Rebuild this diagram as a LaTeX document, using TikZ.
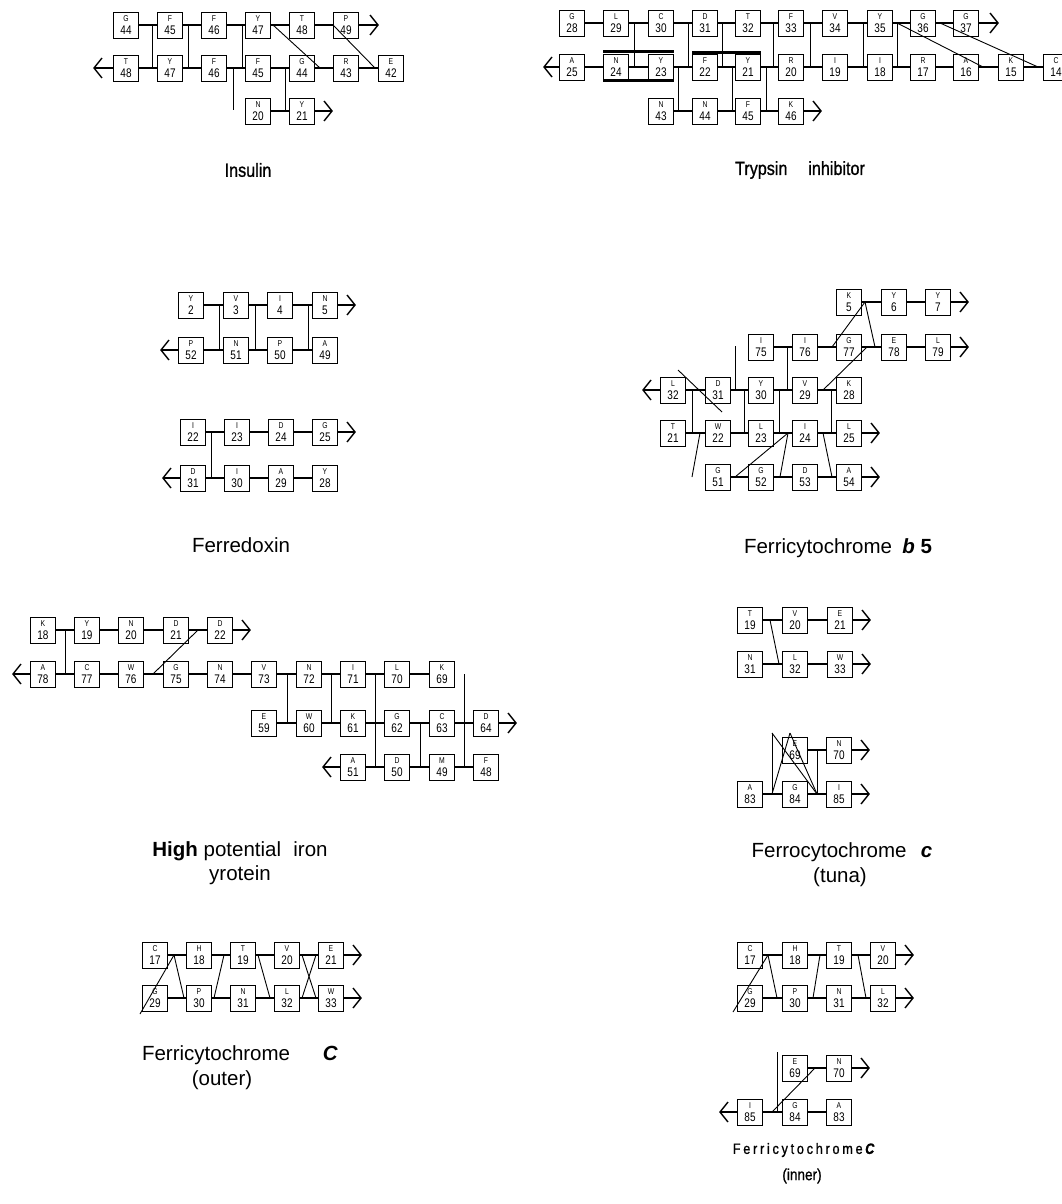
\documentclass[tikz,border=0pt]{standalone}
\usepackage{fontspec}
\setmainfont{Liberation Sans}
\setsansfont{Liberation Sans}
\newfontfamily\condfont[FakeStretch=0.85,FakeBold=1]{Liberation Sans}
\newfontfamily\spfont[FakeStretch=0.85,FakeBold=1,LetterSpace=18]{Liberation Sans}
\newfontfamily\boxfont[FakeStretch=0.8]{Liberation Sans}
\usetikzlibrary{arrows.meta}
\tikzset{
 res/.style={draw, line width=0.8pt, minimum width=25pt, minimum height=26pt, inner sep=0pt, align=center, font=\boxfont\fontsize{9}{12.5}\selectfont},
 chain/.style={line width=1.8pt},
 hb/.style={line width=0.9pt},
 arr/.style={line width=1.4pt, -{Straight Barb[length=8pt,width=20pt,line width=1.4pt]}},
 heavy/.style={line width=3pt},
 lbl/.style={font=\fontsize{20.5}{25}\selectfont},
 clbl/.style={font=\condfont\fontsize{19}{23}\selectfont},
}
\newcommand{\rr}[5]{\node[res] (#1) at (#2,#3) {{\fontsize{8.5}{8.5}\selectfont #4}\\{\fontsize{12.5}{12.5}\selectfont #5}};}
\begin{document}
\begin{tikzpicture}[x=1pt,y=-1pt]
\fill[white] (0,0) rectangle (1062,1204);
\useasboundingbox (0,0) rectangle (1062,1204);
% ================= Insulin
\rr{iG44t}{126}{25}{G}{44}\rr{iF45t}{170}{25}{F}{45}\rr{iF46t}{214}{25}{F}{46}
\rr{iY47t}{258}{25}{Y}{47}\rr{iT48t}{302}{25}{T}{48}\rr{iP49t}{346}{25}{P}{49}
\rr{iT48b}{126}{68}{T}{48}\rr{iY47b}{170}{68}{Y}{47}\rr{iF46b}{214}{68}{F}{46}
\rr{iF45b}{258}{68}{F}{45}\rr{iG44b}{302}{68}{G}{44}\rr{iR43b}{346}{68}{R}{43}\rr{iE42b}{391}{68}{E}{42}
\rr{iN20}{258}{111}{N}{20}\rr{iY21}{302}{111}{Y}{21}
\draw[chain] (iG44t)--(iF45t)--(iF46t)--(iY47t)--(iT48t)--(iP49t);
\draw[arr] (iP49t.east)--+(20,0);
\draw[chain] (iT48b)--(iY47b)--(iF46b)--(iF45b)--(iG44b)--(iR43b)--(iE42b);
\draw[arr] (iT48b.west)--+(-20,0);
\draw[chain] (iN20)--(iY21); \draw[arr] (iY21.east)--+(18,0);
\draw[hb] (152,0 |- iG44t)--(152,0 |- iT48b);
\draw[hb] (188,0 |- iG44t)--(188,0 |- iT48b);
\draw[hb] (242,0 |- iG44t)--(242,0 |- iT48b);
\draw[hb] (233,0 |- iT48b)--(233,110);
\draw[hb] (285,0 |- iT48b)--(285,0 |- iN20);
\draw[hb] (273,0 |- iG44t)--(320,0 |- iT48b);
\draw[hb] (333,0 |- iG44t)--(375,0 |- iT48b);
\node[clbl] (insl) at (248,170) {Insulin};
% ================= Trypsin inhibitor
\rr{tG28}{572}{23}{G}{28}\rr{tL29}{616}{23}{L}{29}\rr{tC30}{661}{23}{C}{30}\rr{tD31}{705}{23}{D}{31}
\rr{tT32}{748}{23}{T}{32}\rr{tF33}{791}{23}{F}{33}\rr{tV34}{835}{23}{V}{34}\rr{tY35}{880}{23}{Y}{35}
\rr{tG36}{923}{23}{G}{36}\rr{tG37}{966}{23}{G}{37}
\rr{tA25}{572}{67}{A}{25}\rr{tN24}{616}{67}{N}{24}\rr{tY23}{661}{67}{Y}{23}\rr{tF22}{705}{67}{F}{22}
\rr{tY21}{748}{67}{Y}{21}\rr{tR20}{791}{67}{R}{20}\rr{tI19}{835}{67}{I}{19}\rr{tI18}{880}{67}{I}{18}
\rr{tR17}{923}{67}{R}{17}\rr{tA16}{966}{67}{A}{16}\rr{tK15}{1011}{67}{K}{15}\rr{tC14}{1056}{67}{C}{14}
\rr{tN43}{661}{111}{N}{43}\rr{tN44}{705}{111}{N}{44}\rr{tF45}{748}{111}{F}{45}\rr{tK46}{791}{111}{K}{46}
\draw[chain] (tG28)--(tL29)--(tC30)--(tD31)--(tT32)--(tF33)--(tV34)--(tY35)--(tG36)--(tG37);
\draw[arr] (tG37.east)--+(20,0);
\draw[chain] (tA25)--(tN24)--(tY23)--(tF22)--(tY21)--(tR20)--(tI19)--(tI18)--(tR17)--(tA16)--(tK15)--(tC14);
\draw[arr] (tA25.west)--+(-16,0);
\draw[chain] (tN43)--(tN44)--(tF45)--(tK46); \draw[arr] (tK46.east)--+(18,0);
\draw[heavy] ([yshift=2pt]tN24.north west)--([yshift=2pt]tY23.north east);
\draw[heavy] (tN24.south west)--(tY23.south east);
\draw[heavy] ([yshift=1pt]tF22.north west)--([yshift=1pt]tY21.north east);
\draw[hb] (634,0 |- tG28)--(634,0 |- tA25);
\draw[hb] (688,0 |- tG28)--(688,0 |- tA25);
\draw[hb] (678,0 |- tA25)--(678,0 |- tN43);
\draw[hb] (722,0 |- tG28)--(722,0 |- tA25);
\draw[hb] (732,0 |- tA25)--(732,0 |- tN43);
\draw[hb] (773,0 |- tG28)--(773,0 |- tA25);
\draw[hb] (766,0 |- tA25)--(766,0 |- tN43);
\draw[hb] (810,0 |- tG28)--(810,0 |- tA25);
\draw[hb] (863,0 |- tG28)--(863,0 |- tA25);
\draw[hb] (897,0 |- tG28)--(897,0 |- tA25);
\draw[hb] (897,0 |- tG28)--(983,0 |- tA25);
\draw[hb] (940,0 |- tG28)--(1038,0 |- tA25);
\node[clbl] (trpl) at (800,170) {Trypsin\hspace{1.1em}inhibitor};
% ================= Ferredoxin
\rr{fY2}{191}{305}{Y}{2}\rr{fV3}{236}{305}{V}{3}\rr{fI4}{280}{305}{I}{4}\rr{fN5}{325}{305}{N}{5}
\rr{fP52}{191}{350}{P}{52}\rr{fN51}{236}{350}{N}{51}\rr{fP50}{280}{350}{P}{50}\rr{fA49}{325}{350}{A}{49}
\draw[chain] (fY2)--(fV3)--(fI4)--(fN5); \draw[arr] (fN5.east)--+(18,0);
\draw[chain] (fP52)--(fN51)--(fP50)--(fA49); \draw[arr] (fP52.west)--+(-18,0);
\draw[hb] (219,0 |- fY2)--(219,0 |- fP52);
\draw[hb] (255,0 |- fY2)--(255,0 |- fP52);
\draw[hb] (308,0 |- fY2)--(308,0 |- fP52);
\rr{fI22}{193}{432}{I}{22}\rr{fI23}{237}{432}{I}{23}\rr{fD24}{281}{432}{D}{24}\rr{fG25}{325}{432}{G}{25}
\rr{fD31}{193}{478}{D}{31}\rr{fI30}{237}{478}{I}{30}\rr{fA29}{281}{478}{A}{29}\rr{fY28}{325}{478}{Y}{28}
\draw[chain] (fI22)--(fI23)--(fD24)--(fG25); \draw[arr] (fG25.east)--+(18,0);
\draw[chain] (fD31)--(fI30)--(fA29)--(fY28); \draw[arr] (fD31.west)--+(-18,0);
\draw[hb] (211,0 |- fI22)--(211,0 |- fD31);
\node[lbl] (ferl) at (241,545) {Ferredoxin};
% ================= Ferricytochrome b5
\rr{bK5}{849}{302}{K}{5}\rr{bY6}{894}{302}{Y}{6}\rr{bY7}{938}{302}{Y}{7}
\rr{bI75}{761}{347}{I}{75}\rr{bI76}{805}{347}{I}{76}\rr{bG77}{849}{347}{G}{77}\rr{bE78}{894}{347}{E}{78}\rr{bL79}{938}{347}{L}{79}
\rr{bL32}{673}{390}{L}{32}\rr{bD31}{718}{390}{D}{31}\rr{bY30}{761}{390}{Y}{30}\rr{bV29}{805}{390}{V}{29}\rr{bK28}{849}{390}{K}{28}
\rr{bT21}{673}{433}{T}{21}\rr{bW22}{718}{433}{W}{22}\rr{bL23}{761}{433}{L}{23}\rr{bI24}{805}{433}{I}{24}\rr{bL25}{849}{433}{L}{25}
\rr{bG51}{718}{477}{G}{51}\rr{bG52}{761}{477}{G}{52}\rr{bD53}{805}{477}{D}{53}\rr{bA54}{849}{477}{A}{54}
\draw[chain] (bK5)--(bY6)--(bY7); \draw[arr] (bY7.east)--+(18,0);
\draw[chain] (bI75)--(bI76)--(bG77)--(bE78)--(bL79); \draw[arr] (bL79.east)--+(18,0);
\draw[chain] (bL32)--(bD31)--(bY30)--(bV29)--(bK28); \draw[arr] (bL32.west)--+(-18,0);
\draw[chain] (bT21)--(bW22)--(bL23)--(bI24)--(bL25); \draw[arr] (bL25.east)--+(18,0);
\draw[chain] (bG51)--(bG52)--(bD53)--(bA54); \draw[arr] (bA54.east)--+(18,0);
\draw[hb] (692,0 |- bL32)--(692,0 |- bT21);
\draw[hb] (735,346)--(735,0 |- bL32);
\draw[hb] (744,0 |- bL32)--(744,0 |- bT21);
\draw[hb] (779,0 |- bL32)--(779,0 |- bT21);
\draw[hb] (787,0 |- bI75)--(787,0 |- bL32);
\draw[hb] (831,0 |- bL32)--(831,0 |- bT21);
\draw[hb] (823,0 |- bL32)--(867,0 |- bI75);
\draw[hb] (832,0 |- bI75)--(865,0 |- bK5);
\draw[hb] (865,0 |- bK5)--(875,0 |- bI75);
\draw[hb] (788,0 |- bT21)--(735,0 |- bG51);
\draw[hb] (788,0 |- bT21)--(780,0 |- bG51);
\draw[hb] (823,0 |- bT21)--(832,0 |- bG51);
\draw[hb] (678,370)--(722,412);
\draw[hb] (692,477)--(700,0 |- bT21);
\node[lbl] (b5l) at (838,548) {Ferricytochrome\hspace{0.5em}\textbf{\textit{b}} \textbf{5}};
% ================= HiPIP
\rr{hK18}{43}{630}{K}{18}\rr{hY19}{87}{630}{Y}{19}\rr{hN20}{131}{630}{N}{20}\rr{hD21}{176}{630}{D}{21}\rr{hD22}{220}{630}{D}{22}
\rr{hA78}{43}{674}{A}{78}\rr{hC77}{87}{674}{C}{77}\rr{hW76}{131}{674}{W}{76}\rr{hG75}{176}{674}{G}{75}\rr{hN74}{220}{674}{N}{74}
\rr{hV73}{264}{674}{V}{73}\rr{hN72}{309}{674}{N}{72}\rr{hI71}{353}{674}{I}{71}\rr{hL70}{397}{674}{L}{70}\rr{hK69}{442}{674}{K}{69}
\rr{hE59}{264}{723}{E}{59}\rr{hW60}{309}{723}{W}{60}\rr{hK61}{353}{723}{K}{61}\rr{hG62}{397}{723}{G}{62}\rr{hC63}{442}{723}{C}{63}\rr{hD64}{486}{723}{D}{64}
\rr{hA51}{353}{767}{A}{51}\rr{hD50}{397}{767}{D}{50}\rr{hM49}{442}{767}{M}{49}\rr{hF48}{486}{767}{F}{48}
\draw[chain] (hK18)--(hY19)--(hN20)--(hD21)--(hD22); \draw[arr] (hD22.east)--+(18,0);
\draw[chain] (hA78)--(hC77)--(hW76)--(hG75)--(hN74)--(hV73)--(hN72)--(hI71)--(hL70)--(hK69); \draw[arr] (hA78.west)--+(-18,0);
\draw[chain] (hE59)--(hW60)--(hK61)--(hG62)--(hC63)--(hD64); \draw[arr] (hD64.east)--+(18,0);
\draw[chain] (hA51)--(hD50)--(hM49)--(hF48); \draw[arr] (hA51.west)--+(-18,0);
\draw[hb] (65,0 |- hK18)--(65,0 |- hA78);
\draw[hb] (198,0 |- hK18)--(153,0 |- hA78);
\draw[hb] (287,0 |- hA78)--(287,0 |- hE59);
\draw[hb] (331,0 |- hA78)--(331,0 |- hE59);
\draw[hb] (375,0 |- hA78)--(375,0 |- hE59);
\draw[hb] (464,0 |- hA78)--(464,0 |- hE59);
\draw[hb] (375,0 |- hE59)--(375,0 |- hA51);
\draw[hb] (420,0 |- hE59)--(420,0 |- hA51);
\draw[hb] (464,0 |- hE59)--(464,0 |- hA51);
\node[lbl] (hipl1) at (240,851) {\textbf{High} potential\hspace{0.6em}iron};
\node[lbl] (hipl2) at (240,875) {yrotein};
% ================= Ferrocytochrome c (tuna)
\rr{uT19}{750}{620}{T}{19}\rr{uV20}{795}{620}{V}{20}\rr{uE21}{840}{620}{E}{21}
\rr{uN31}{750}{664}{N}{31}\rr{uL32}{795}{664}{L}{32}\rr{uW33}{840}{664}{W}{33}
\draw[chain] (uT19)--(uV20)--(uE21); \draw[arr] (uE21.east)--+(18,0);
\draw[chain] (uN31)--(uL32)--(uW33); \draw[arr] (uW33.east)--+(18,0);
\draw[hb] (770,0 |- uT19)--(779,0 |- uN31);
\rr{uE69}{795}{750}{E}{69}\rr{uN70}{839}{750}{N}{70}
\rr{uA83}{750}{794}{A}{83}\rr{uG84}{795}{794}{G}{84}\rr{uI85}{839}{794}{I}{85}
\draw[chain] (uE69)--(uN70); \draw[arr] (uN70.east)--+(18,0);
\draw[chain] (uA83)--(uG84)--(uI85); \draw[arr] (uI85.east)--+(18,0);
\draw[hb] (772,0 |- uA83)--(790,733);
\draw[hb] (790,733)--(817,0 |- uA83);
\draw[hb] (772,733)--(817,0 |- uA83);
\draw[hb] (772,733)--(772,0 |- uA83);
\draw[hb] (817,0 |- uE69)--(817,0 |- uA83);
\node[lbl] (tunl1) at (842,852) {Ferrocytochrome\hspace{0.7em}\textbf{\textit{c}}};
\node[lbl] (tunl2) at (840,877) {(tuna)};
% ================= Ferricytochrome c (outer)
\rr{oC17}{155}{955}{C}{17}\rr{oH18}{199}{955}{H}{18}\rr{oT19}{243}{955}{T}{19}\rr{oV20}{287}{955}{V}{20}\rr{oE21}{331}{955}{E}{21}
\rr{oG29}{155}{998}{G}{29}\rr{oP30}{199}{998}{P}{30}\rr{oN31}{243}{998}{N}{31}\rr{oL32}{287}{998}{L}{32}\rr{oW33}{331}{998}{W}{33}
\draw[chain] (oC17)--(oH18)--(oT19)--(oV20)--(oE21); \draw[arr] (oE21.east)--+(18,0);
\draw[chain] (oG29)--(oP30)--(oN31)--(oL32)--(oW33); \draw[arr] (oW33.east)--+(18,0);
\draw[hb] (140,1014)--(174,0 |- oC17);
\draw[hb] (174,0 |- oC17)--(184,0 |- oG29);
\draw[hb] (214,0 |- oG29)--(224,0 |- oC17);
\draw[hb] (258,0 |- oC17)--(270,0 |- oG29);
\draw[hb] (302,0 |- oC17)--(316,0 |- oG29);
\draw[hb] (302,0 |- oG29)--(316,0 |- oC17);
\node[lbl] (outl1) at (240,1055) {Ferricytochrome\hspace{1.6em}\textbf{\textit{C}}};
\node[lbl] (outl2) at (222,1080) {(outer)};
% ================= Ferricytochrome C (inner)
\rr{nC17}{750}{955}{C}{17}\rr{nH18}{795}{955}{H}{18}\rr{nT19}{839}{955}{T}{19}\rr{nV20}{883}{955}{V}{20}
\rr{nG29}{750}{998}{G}{29}\rr{nP30}{795}{998}{P}{30}\rr{nN31}{839}{998}{N}{31}\rr{nL32}{883}{998}{L}{32}
\draw[chain] (nC17)--(nH18)--(nT19)--(nV20); \draw[arr] (nV20.east)--+(18,0);
\draw[chain] (nG29)--(nP30)--(nN31)--(nL32); \draw[arr] (nL32.east)--+(18,0);
\draw[hb] (733,1012)--(768,0 |- nC17);
\draw[hb] (768,0 |- nC17)--(777,0 |- nG29);
\draw[hb] (813,0 |- nG29)--(820,0 |- nC17);
\draw[hb] (858,0 |- nC17)--(866,0 |- nG29);
\rr{nE69}{795}{1068}{E}{69}\rr{nN70}{839}{1068}{N}{70}
\rr{nI85}{750}{1112}{I}{85}\rr{nG84}{795}{1112}{G}{84}\rr{nA83}{839}{1112}{A}{83}
\draw[chain] (nE69)--(nN70); \draw[arr] (nN70.east)--+(18,0);
\draw[chain] (nI85)--(nG84)--(nA83); \draw[arr] (nI85.west)--+(-18,0);
\draw[hb] (772,0 |- nI85)--(815,0 |- nE69);
\draw[hb] (777,1052)--(777,0 |- nI85);
\node[font=\spfont\fontsize{15}{18}\selectfont] (innl1) at (805,1150) {Ferricytochrome\,\textbf{\textit{C}}};
\node[font=\condfont\fontsize{16}{19}\selectfont] (innl2) at (802,1176) {(inner)};
\end{tikzpicture}
\end{document}
